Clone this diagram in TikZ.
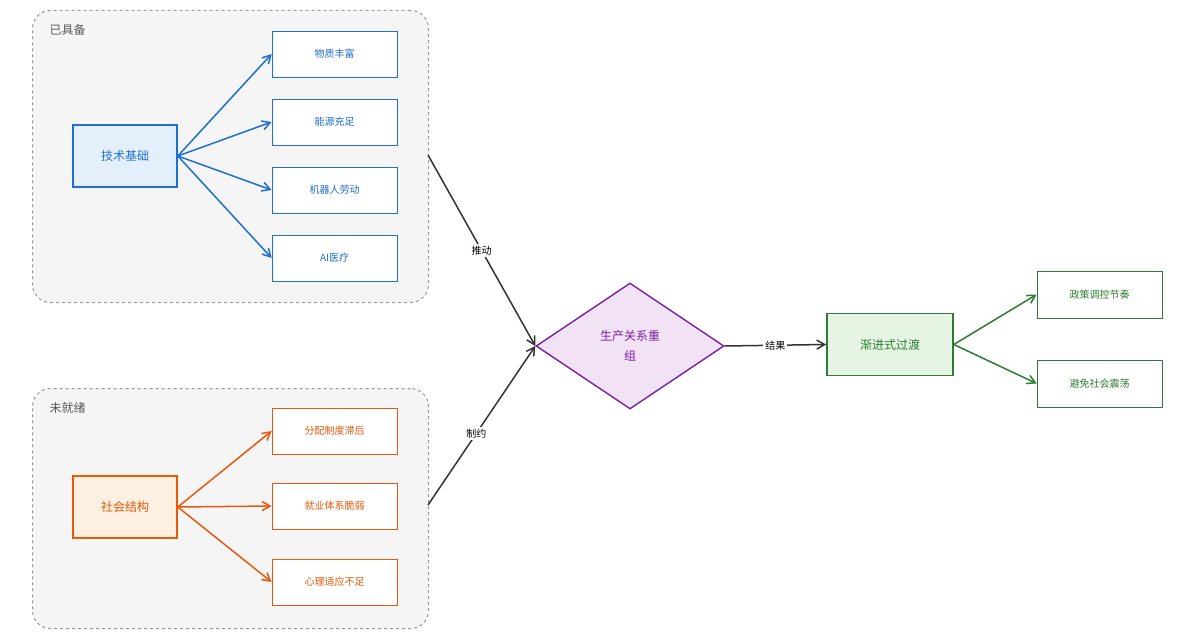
\documentclass[tikz,border=0pt]{standalone}
\usepackage{fontspec}
\setmainfont{Noto Sans CJK SC}
\usetikzlibrary{shapes.geometric,arrows.meta}
\definecolor{bl}{HTML}{1E6FD0}\definecolor{blf}{HTML}{E3F0FC}
\definecolor{og}{HTML}{E8590C}\definecolor{ogf}{HTML}{FDF0E0}
\definecolor{pu}{HTML}{7B1FA2}\definecolor{puf}{HTML}{F1E2F5}
\definecolor{gr}{HTML}{2E7D32}\definecolor{grf}{HTML}{E5F4E3}
\definecolor{dk}{HTML}{333333}
\tikzset{
 grp/.style={draw=gray!80,dashed,line width=1pt,fill=black!4,rounded corners=18pt},
 box/.style={draw=#1,text=#1,fill=white,line width=0.8pt,minimum width=125pt,minimum height=46pt,font=\fontsize{10pt}{12pt}\selectfont},
 main/.style={draw=#1,text=#1,line width=1.6pt,minimum width=104pt,minimum height=62pt,font=\fontsize{12pt}{14pt}\selectfont},
 arr/.style={-{Straight Barb[length=8pt,width=9pt]},line width=1.5pt,draw=#1},
 lab/.style={fill=white,font=\fontsize{10pt}{12pt}\selectfont,text=black,inner sep=2pt}
}
\begin{document}
\begin{tikzpicture}[x=1pt,y=-1pt]
\useasboundingbox (0,0) rectangle (1185,636);
\node[grp,minimum width=396pt,minimum height=292pt,anchor=north west] (g1) at (32,10) {};
\node[grp,minimum width=396pt,minimum height=240pt,anchor=north west] (g2) at (32,388) {};
\node[anchor=west,text=black!65,font=\fontsize{12pt}{14pt}\selectfont] (l1) at (46,30) {已具备};
\node[anchor=west,text=black!65,font=\fontsize{12pt}{14pt}\selectfont] (l2) at (46,408) {未就绪};
\node[main=bl,fill=blf] (tj) at (125,156) {技术基础};
\node[box=bl] (b1) at (334.5,54) {物质丰富};
\node[box=bl] (b2) at (334.5,122) {能源充足};
\node[box=bl] (b3) at (334.5,190) {机器人劳动};
\node[box=bl] (b4) at (334.5,258) {AI医疗};
\foreach \b in {b1,b2,b3,b4} \draw[arr=bl] (tj.east) -- (\b.west);
\node[main=og,fill=ogf] (sh) at (125,507) {社会结构};
\node[box=og] (o1) at (334.5,431) {分配制度滞后};
\node[box=og] (o2) at (334.5,506) {就业体系脆弱};
\node[box=og] (o3) at (334.5,582) {心理适应不足};
\foreach \b in {o1,o2,o3} \draw[arr=og] (sh.east) -- (\b.west);
\node[diamond,draw=pu,fill=puf,text=pu,line width=1.4pt,minimum width=188pt,minimum height=126pt,inner sep=0pt,align=center,font=\fontsize{12pt}{20pt}\selectfont] (d) at (630,346) {生产关系重\\组};
\node[main=gr,fill=grf,minimum width=126pt] (jj) at (890,344.5) {渐进式过渡};
\node[box=gr,minimum width=125pt,minimum height=47pt] (r1) at (1099.5,294.5) {政策调控节奏};
\node[box=gr,minimum width=125pt,minimum height=47pt] (r2) at (1099.5,383.5) {避免社会震荡};
\coordinate (p1) at (428,155);
\coordinate (p2) at (428,505);
\draw[arr=dk] (p1) -- node[lab,pos=0.5]{推动} (d.west);
\draw[arr=dk] (p2) -- node[lab,pos=0.45]{制约} (d.west);
\draw[arr=dk] (d.east) -- node[lab]{结果} (jj.west);
\draw[arr=gr] (jj.east) -- (r1.west);
\draw[arr=gr] (jj.east) -- (r2.west);
\end{tikzpicture}
\end{document}
